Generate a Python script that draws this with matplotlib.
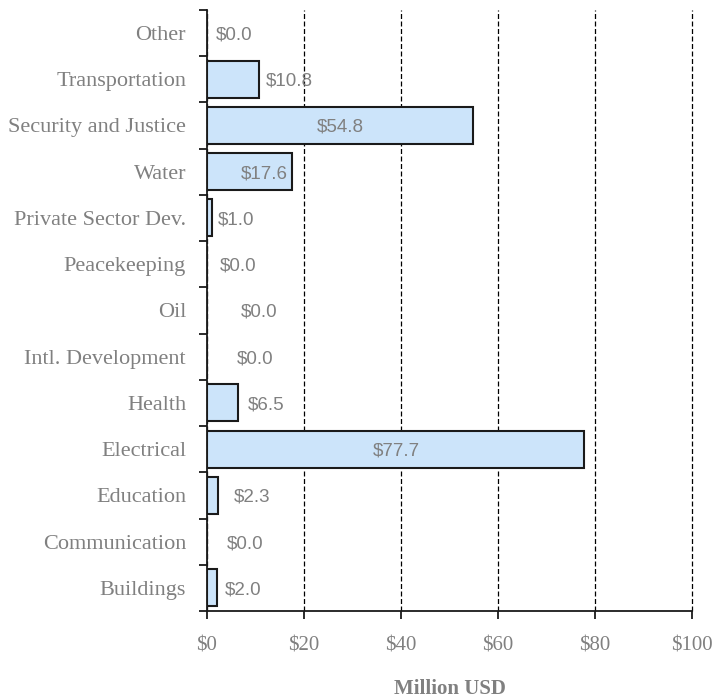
import numpy as np
import matplotlib.pyplot as plt
from matplotlib.ticker import FixedLocator

categories = ["Buildings", "Communication", "Education", "Electrical", "Health",
              "Intl. Development", "Oil", "Peacekeeping", "Private Sector Dev.",
              "Water", "Security and Justice", "Transportation", "Other"]
values = [2.0, 0.0, 2.3, 77.7, 6.5, 0.0, 0.0, 0.0, 1.0, 17.6, 54.8, 10.8, 0.0]
# where the value labels sit (data units, label centre), as placed in the original
label_x = [7.4, 7.8, 9.3, 39.0, 12.2, 9.9, 10.7, 6.4, 6.0, 11.8, 27.4, 16.9, 5.6]
xticks = [0, 20, 40, 60, 80, 100]

grey = '#808080'

fig = plt.figure(figsize=(7.16, 7.0), dpi=100)
ax = fig.add_axes([0.289, 0.127, 0.6775, 0.859])

y = np.arange(len(categories))
ax.barh(y, values, height=0.8, color='#cce4fa', edgecolor='#1a1a1a', linewidth=1.5, zorder=3)

for yi, v, lx in zip(y, values, label_x):
    ax.text(lx, yi - 0.04, "$%.1f" % v, ha='center', va='center', color=grey,
            fontsize=13.5, family='Liberation Sans', zorder=4)

ax.set_xlim(0, 100)
ax.set_ylim(-0.5, len(categories) - 0.5)

ax.set_xticks(xticks)
ax.set_xticklabels(["$%d" % t for t in xticks], family='Liberation Serif',
                   fontsize=15, color=grey)
ax.set_yticks(y)
ax.set_yticklabels(categories, family='Liberation Serif', fontsize=16, color=grey)
ax.yaxis.set_minor_locator(FixedLocator(np.arange(-0.5, len(categories), 1.0)))
ax.tick_params(axis='y', which='major', length=0, pad=15)
ax.tick_params(axis='y', which='minor', length=6, width=1.3, color='#1a1a1a', direction='out')
ax.tick_params(axis='x', length=6, width=1.3, color='#1a1a1a', direction='out', pad=12)

ax.grid(axis='x', color='black', linestyle=(0, (4, 2)), linewidth=0.9, zorder=1)
for gl in ax.xaxis.get_gridlines():
    gl.set_clip_on(False)

for s in ['top', 'right']:
    ax.spines[s].set_visible(False)
for s in ['left', 'bottom']:
    ax.spines[s].set_color('#1a1a1a')
    ax.spines[s].set_linewidth(1.3)

ax.set_xlabel("Million USD", family='Liberation Serif', fontweight='bold',
              fontsize=15, color=grey, labelpad=17)

plt.savefig("out.png", dpi=100)
